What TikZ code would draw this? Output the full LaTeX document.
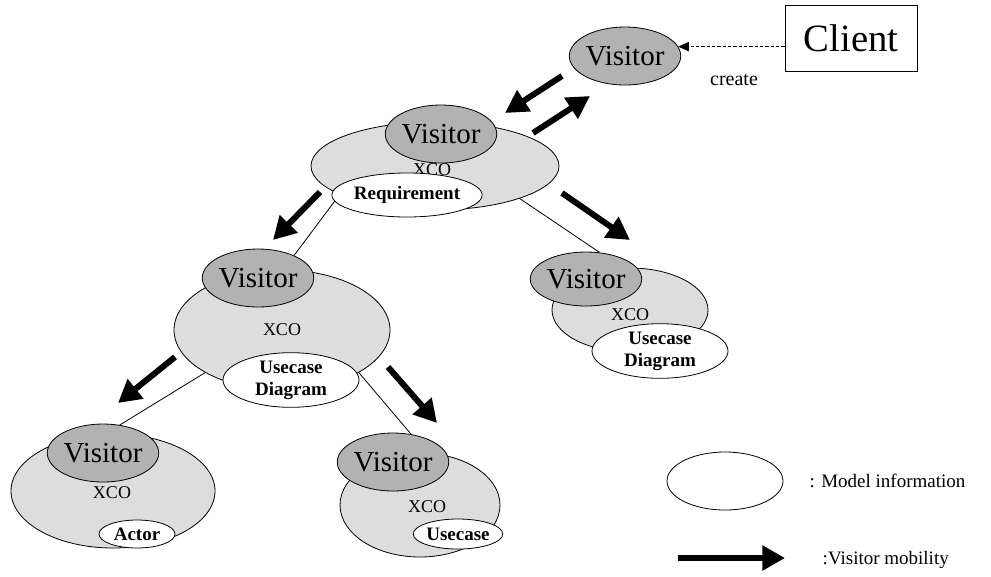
\documentclass[tikz,border=0pt]{standalone}
\usepackage{fontspec}
\setmainfont{Liberation Serif}
\usetikzlibrary{shapes.geometric,arrows.meta,backgrounds}
\definecolor{visgray}{RGB}{178,178,178}
\definecolor{xcogray}{RGB}{221,221,221}
\begin{document}
\begin{tikzpicture}[x=0.75pt,y=-0.75pt,
  oval/.style 2 args={ellipse, draw, line width=0.6pt, inner sep=0pt,
    minimum width={#1*0.75pt}, minimum height={#2*0.75pt}},
  visitor/.style={oval={106}{58}, fill=visgray, font=\fontsize{21.75}{24}\selectfont},
  xco/.style={fill=xcogray},
  xcotext/.style={font=\fontsize{13.5}{15}\selectfont},
  model/.style={fill=white, font=\fontsize{14.25}{16.5}\selectfont\bfseries, align=center},
  mobility/.style={line width=4.5pt, -{Triangle[length=17pt,width=18pt]}},
  thin/.style={line width=0.6pt},
  legendtext/.style={anchor=west, font=\fontsize{14.25}{16}\selectfont}]
\useasboundingbox (0,0) rectangle (991,576);

% client and the visitor it creates
\node[draw, line width=0.6pt, minimum width=99pt, minimum height=49.5pt, inner sep=0pt,
  font=\fontsize{29}{32}\selectfont] (client) at (851,38) {Client};
\node[visitor] (v1) at (625,56) {Visitor};
\draw[line width=0.8pt, dash pattern=on 2.5pt off 1.5pt, -{Triangle[length=8pt,width=7pt]}]
  (client.west |- v1.10) -- (v1.10);
\node[font=\fontsize{15}{17}\selectfont] (create) at (734,80) {create};

% requirement XCO
\node[oval={248}{88}, xco] (x1) at (435,166) {};
\node[xcotext] (x1t) at (432,170) {XCO};
\node[visitor] (v2) at (441,134) {Visitor};
\node[oval={134}{44}, model] (req) at (407,195) {Requirement};

% use case diagram XCO (left)
\node[oval={216}{120}, xco] (x3) at (282,330) {};
\node[xcotext] (x3t) at (282,330) {XCO};
\node[visitor] (v3) at (258,278) {Visitor};
\node[oval={136}{50}, model] (ud3) at (291,380) {Usecase\\Diagram};

% use case diagram XCO (right)
\node[oval={156}{84}, xco] (x4) at (630,310) {};
\node[xcotext] (x4t) at (630,315) {XCO};
\node[visitor, minimum height=40.5pt] (v4) at (586,279) {Visitor};
\node[oval={136}{48}, model] (ud4) at (660,351) {Usecase\\Diagram};

% actor XCO
\node[oval={204}{114}, xco] (x5) at (113,491) {};
\node[xcotext] (x5t) at (112,493) {XCO};
\node[visitor] (v5) at (103,453) {Visitor};
\node[oval={76}{28}, model] (act) at (137,534) {Actor};

% use case XCO
\node[oval={160}{104}, xco] (x6) at (420,505) {};
\node[xcotext] (x6t) at (427,507) {XCO};
\node[visitor] (v6) at (393,462) {Visitor};
\node[oval={80}{30}, model] (uc) at (458,534) {Usecase};

% containment links, behind the ovals
\begin{scope}[on background layer]
  \draw[thin] (req.185) -- (v3.32);
  \draw[thin] (x1.339) -- (v4.63);
  \draw[thin] (x3.209) -- (v5.59);
  \draw[thin] (x3.331) -- (v6.57);
\end{scope}

% visitor moves
\coordinate (a1s) at (562,76);  \coordinate (a1e) at (505,113);
\coordinate (a2s) at (533,133); \coordinate (a2e) at (590,96);
\coordinate (a3s) at (320,192); \coordinate (a3e) at (273,240);
\coordinate (a4s) at (562,193); \coordinate (a4e) at (630,240);
\coordinate (a5s) at (175,357); \coordinate (a5e) at (118,403);
\coordinate (a6s) at (388,367); \coordinate (a6e) at (437,423);
\draw[mobility] (a1s) -- (a1e);
\draw[mobility] (a2s) -- (a2e);
\draw[mobility] (a3s) -- (a3e);
\draw[mobility] (a4s) -- (a4e);
\draw[mobility] (a5s) -- (a5e);
\draw[mobility] (a6s) -- (a6e);

% legend
\node[oval={116}{58}, fill=white] (leg) at (725,481) {};
\node[legendtext] (legt) at (805,481) {: Model information};
\coordinate (la1) at (678,558);
\coordinate (la2) at (785,558);
\draw[mobility] (la1) -- (la2);
\node[legendtext] (legm) at (818,560) {:Visitor mobility};
\end{tikzpicture}
\end{document}
